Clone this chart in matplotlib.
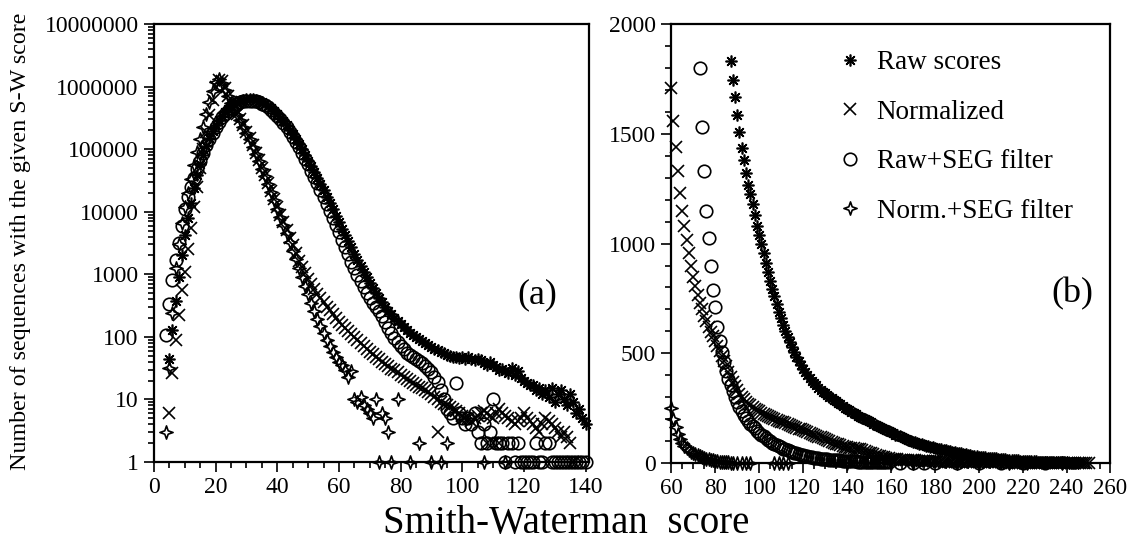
import numpy as np
import matplotlib
matplotlib.use("Agg")
import matplotlib.pyplot as plt
from matplotlib.path import Path
from matplotlib.ticker import FixedLocator, FixedFormatter, MultipleLocator

plt.rcParams["font.family"] = ["Liberation Serif", "DejaVu Serif"]

# ---------------- panel (a): log counts, score 0-140 ----------------
A_RAW_START = 5
A_RAW = [45, 130, 380, 900, 2000, 4200, 8000, 14000, 24000, 38000, 57000, 82000,
         112000, 150000, 195000, 245000, 295000, 345000, 395000, 440000, 490000,
         530000, 565000, 595000, 615000, 628000, 632000, 628000, 615000, 595000,
         565000, 530000, 490000, 450000, 405000, 360000, 318000, 278000, 240000,
         205000, 173000, 145000, 120000, 99000, 81000, 66000, 53000, 43000, 34500,
         27500, 22000, 17500, 14000, 11000, 8700, 6900, 5400, 4300, 3400, 2700,
         2150, 1700, 1370, 1100, 890, 730, 600, 500, 420, 355, 305, 262, 228, 200,
         177, 158, 142, 128, 117, 107, 99, 92, 85, 79, 74, 69, 65, 61, 58, 55, 52,
         50, 48, 47, 46, 47, 45, 48, 44, 42, 45, 43, 38, 36, 40, 35, 33, 30, 31, 28,
         26, 32, 25, 28, 22, 20, 18, 17, 17, 14, 15, 12, 14, 11, 15, 9, 12, 14, 10,
         8, 12, 9, 6, 7, 5, 4]

A_NORM_START = 5
A_NORM = [6, 26, 90, 220, 560, 1100, 2500, 5500, 12000, 25000, 50000, 100000,
          190000, 350000, 620000, 1000000, 1300000, 1250000, 950000, 720000,
          560000, 450000, 370000, 300000, 240000, 190000, 150000, 115000, 88000,
          67000, 50000, 38000, 28500, 21500, 16000, 12000, 9000, 6800, 5100, 3800,
          2900, 2200, 1650, 1300, 1050, 850, 700, 580, 490, 415, 355, 305, 265, 230,
          200, 175, 155, 138, 123, 110, 98, 88, 79, 71, 64, 58, 53, 48, 44, 40, 37,
          34, 31, 29, 27, 25, 23, 21, 20, 18, 17, 16, 15, 14, 13, 12, 11, 10, 9,
          8.5, 8, 7.5, 7, 6.5, 6, 5.5, 5, 5, 4.5, 5, 5.5, 6, 6.5, 6, 5.5, 5, 6, 7,
          6, 5.5, 5, 4.5, 4, 4.5, 5, 6, 5, 4.5, 4, 3.5, 3, 4, 5, 4.5, 4, 3.5, 3,
          2.5, 3, 2.5, 2, 1]
A_NORM_EXTRA_X = [92, 108, 110, 112]
A_NORM_EXTRA_Y = [3, 2, 2, 2]

A_RAWSEG_START = 4
A_RAWSEG = [107, 330, 800, 1700, 3200, 6000, 11000, 17000, 25000, 35000, 48000,
            65000, 88000, 115000, 148000, 185000, 228000, 275000, 322000, 368000,
            412000, 455000, 495000, 530000, 560000, 582000, 596000, 600000, 596000,
            584000, 565000, 538000, 505000, 468000, 428000, 386000, 343000, 301000,
            261000, 224000, 190000, 159000, 132000, 108000, 88000, 71000, 57000,
            45500, 36000, 28500, 22300, 17400, 13500, 10400, 8000, 6100, 4700, 3600,
            2750, 2100, 1600, 1250, 980, 780, 630, 510, 420, 350, 300, 260, 215, 175,
            140, 115, 95, 82, 72, 63, 56, 51, 47, 44, 41, 38, 34, 31, 27, 23, 19, 14,
            10, 7, 6, 5, 18, 6, 5, 4, 5, 4, 6, 3, 2, 4, 2, 3, 10, 2, 2, 2, 1, 2, 2,
            1, 2, 1, 1, 1, 1, 1, 2, 1, 1, 2, 2, 1, 1, 1, 1, 1, 1, 1, 1, 1, 1, 1, 1]

A_NORMSEG_START = 4
A_NORMSEG = [3, 32, 240, 1250, 3000, 6500, 12000, 20000, 33000, 55000, 90000,
             145000, 230000, 360000, 560000, 850000, 1200000, 1350000, 1150000,
             900000, 700000, 550000, 440000, 355000, 290000, 230000, 182000, 143000,
             110000, 85000, 65000, 49000, 37000, 27500, 20500, 15200, 11200, 8300,
             6100, 4500, 3300, 2400, 1750, 1270, 920, 660, 480, 350, 260, 195, 150,
             115, 90, 72, 58, 47, 40, 35, 30, 23, 28, 10, 9, 11, 8, 7, 6, 5, 10]
A_NORMSEG_EXTRA_X = [73, 74, 75, 76, 77, 79, 83, 86, 90, 93, 95, 107, 114]
A_NORMSEG_EXTRA_Y = [1, 6, 5, 3, 1, 10, 1, 2, 1, 1, 2, 1, 1]

A_YTICKS = [1, 10, 100, 1000, 10000, 100000, 1000000, 10000000]
A_YLABELS = ["1", "10", "100", "1000", "10000", "100000", "1000000", "10000000"]

# ---------------- panel (b): linear counts, score 60-260 ----------------
B_RAW_START = 87
B_RAW = [1830, 1745, 1670, 1585, 1510, 1435, 1380, 1320, 1265, 1225, 1180, 1130,
         1080, 1040, 1000, 955, 910, 870, 830, 795, 760, 725, 690, 660, 630, 600,
         575, 550, 527, 505, 485, 465, 447, 430, 415, 400, 387, 375, 364, 354, 344,
         335, 326, 318, 310, 302, 295, 288, 281, 274, 267, 260, 253, 246, 240, 234,
         228, 222, 216, 210, 205, 200, 195, 190, 185, 180, 175, 170, 165, 160, 155,
         150, 145, 140, 135, 130, 126, 122, 118, 114, 110, 106, 102, 98, 95, 92, 89,
         86, 83, 80, 77, 74, 71, 68, 66, 64, 62, 60, 58, 56, 54, 52, 50, 48, 46, 44,
         42, 40, 38, 36, 34, 32, 30, 29, 28, 27, 26, 25, 24, 23, 22, 21, 20, 19, 18,
         17, 16, 15, 14, 13, 12, 12, 11, 11, 10, 10, 9, 9, 8, 8, 7, 7, 6, 6, 5, 5,
         5, 4, 4, 4, 3, 3, 3, 3, 2, 2, 2, 2, 2]

B_NORM_START = 60
B_NORM = [1710, 1560, 1440, 1330, 1230, 1150, 1080, 1015, 955, 900, 850, 805, 765,
          730, 700, 670, 645, 620, 598, 577, 555, 533, 512, 490, 465, 440, 415, 392,
          370, 350, 332, 316, 302, 290, 280, 271, 263, 255, 248, 241, 235, 229, 224,
          219, 214, 209, 205, 201, 197, 193, 189, 185, 181, 177, 173, 169, 165, 161,
          157, 153, 149, 145, 141, 137, 133, 129, 125, 121, 117, 113, 109, 105, 101,
          97, 93, 89, 85, 81, 78, 75, 72, 70, 68, 67, 66, 65, 63, 60, 56, 52, 48, 44,
          40, 37, 34, 31, 28, 26, 24, 22, 20, 19, 18, 17, 16, 15, 14, 14, 13, 13, 12,
          12, 11, 11, 10, 10, 9, 9, 8, 8, 8, 8, 7, 7, 7, 7, 6, 6, 6, 6, 5, 5, 5, 5,
          5, 5, 4, 4, 4, 4, 4, 4, 3, 3, 3, 3, 3, 3, 3, 3, 3, 3, 2, 2, 2, 2, 2, 2, 2,
          2, 2, 2, 2, 2, 2, 2, 1, 1, 1, 1, 1, 1, 1, 1, 1, 1, 1, 1, 1, 1, 1, 1, 1, 1,
          1, 1, 1, 1, 1, 1, 1]

B_RAWSEG_START = 73
B_RAWSEG = [1800, 1530, 1330, 1150, 1025, 900, 790, 710, 620, 555, 505, 460, 420,
            385, 355, 328, 302, 278, 255, 236, 220, 205, 192, 180, 168, 158, 148, 139,
            130, 122, 114, 107, 100, 93, 87, 81, 76, 71, 66, 62, 58, 54, 50, 47, 44,
            41, 38, 36, 33, 31, 29, 27, 25, 23, 22, 20, 19, 18, 17, 16, 15, 14, 13, 12,
            12, 11, 10, 10, 9, 9, 8, 8, 7, 7, 6, 6, 5, 5, 4, 4, 4, 4, 3, 3, 3, 3, 3]
B_RAWSEG_EXTRA_X = [164, 170, 175, 180, 190, 200, 210, 220, 230]
B_RAWSEG_EXTRA_Y = [2, 2, 2, 1, 1, 1, 1, 1, 1]

B_NORMSEG_START = 60
B_NORMSEG = [250, 200, 165, 132, 108, 92, 79, 68, 60, 52, 46, 40, 35, 31, 27, 23,
             20, 17, 14, 12, 10, 8, 7, 5, 4, 3, 3, 2, 2]
B_NORMSEG_EXTRA_X = [90, 92, 94, 96, 107, 109, 111, 113, 140, 160, 170, 190, 200,
                     214, 222, 238]
B_NORMSEG_EXTRA_Y = [2, 1, 1, 1, 1, 1, 1, 1, 1, 1, 1, 1, 1, 1, 1, 1]

LABELS = ["Raw scores", "Normalized", "Raw+SEG filter", "Norm.+SEG filter"]

# four-pointed star marker for the Norm.+SEG series
STAR4 = Path.unit_regular_star(4, 0.36)
MARKERS = [(8, 2, 0), "x", "o", STAR4]
SIZES = [8.5, 8.5, 9, 9.5]


def series(start, values, extra_x=None, extra_y=None):
    x = list(np.arange(start, start + len(values)))
    y = list(values)
    if extra_x is not None:
        x += list(extra_x)
        y += list(extra_y)
    return np.array(x, dtype=float), np.array(y, dtype=float)


def draw(ax, data):
    handles = []
    for (x, y), m, s, lab in zip(data, MARKERS, SIZES, LABELS):
        h, = ax.plot(x, y, linestyle="none", marker=m, markersize=s,
                     markerfacecolor="none", markeredgecolor="black",
                     markeredgewidth=1.2, color="black", label=lab, clip_on=False)
        handles.append(h)
    return handles


def style(ax):
    for sp in ax.spines.values():
        sp.set_linewidth(1.6)
    ax.tick_params(which="both", direction="out", top=False, right=False,
                   labelsize=17, width=1.2, color="black")
    ax.tick_params(which="major", length=7, pad=4)
    ax.tick_params(which="minor", length=4)


fig = plt.figure(figsize=(11.32, 5.48), dpi=100)
axa = fig.add_axes([0.136, 0.157, 0.384, 0.799])
axb = fig.add_axes([0.593, 0.155, 0.388, 0.801])

data_a = [series(A_RAW_START, A_RAW),
          series(A_NORM_START, A_NORM, A_NORM_EXTRA_X, A_NORM_EXTRA_Y),
          series(A_RAWSEG_START, A_RAWSEG),
          series(A_NORMSEG_START, A_NORMSEG, A_NORMSEG_EXTRA_X, A_NORMSEG_EXTRA_Y)]
draw(axa, data_a)
axa.set_yscale("log")
axa.set_ylim(1, 1e7)
axa.set_xlim(0, 141)
axa.yaxis.set_major_locator(FixedLocator(A_YTICKS))
axa.yaxis.set_major_formatter(FixedFormatter(A_YLABELS))
axa.yaxis.set_minor_locator(FixedLocator(
    [m * 10 ** k for k in range(7) for m in range(2, 10)]))
axa.xaxis.set_major_locator(MultipleLocator(20))
axa.xaxis.set_minor_locator(MultipleLocator(5))
style(axa)
axa.text(0.928, 0.382, "(a)", transform=axa.transAxes, fontsize=26,
         ha="right", va="center")

data_b = [series(B_RAW_START, B_RAW),
          series(B_NORM_START, B_NORM),
          series(B_RAWSEG_START, B_RAWSEG, B_RAWSEG_EXTRA_X, B_RAWSEG_EXTRA_Y),
          series(B_NORMSEG_START, B_NORMSEG, B_NORMSEG_EXTRA_X, B_NORMSEG_EXTRA_Y)]
handles = draw(axb, data_b)
axb.set_xlim(60, 260)
axb.set_ylim(0, 2000)
axb.xaxis.set_major_locator(MultipleLocator(20))
axb.xaxis.set_minor_locator(MultipleLocator(5))
axb.yaxis.set_major_locator(MultipleLocator(500))
axb.yaxis.set_minor_locator(MultipleLocator(100))
style(axb)
axb.tick_params(axis="x", labelsize=16.5)
axb.text(0.96, 0.385, "(b)", transform=axb.transAxes, fontsize=26,
         ha="right", va="center")
axb.legend(handles=handles, loc="upper left", bbox_to_anchor=(0.375, 0.94),
           frameon=False, fontsize=19.5, numpoints=1, handlelength=1.0,
           handletextpad=0.5, labelspacing=0.9, borderpad=0, borderaxespad=0)

fig.text(0.018, 0.56, "Number of sequences with the given S-W score",
         rotation=90, fontsize=17.3, ha="center", va="center")
fig.text(0.50, 0.045, "Smith-Waterman  score", fontsize=28,
         ha="center", va="center")

fig.savefig("out.png", dpi=100)
